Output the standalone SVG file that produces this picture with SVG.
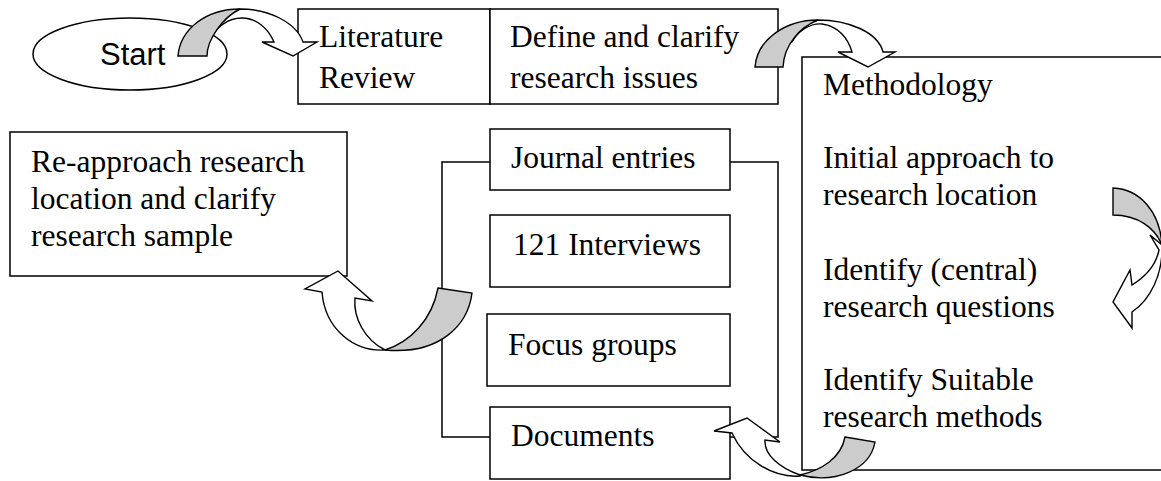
<svg xmlns="http://www.w3.org/2000/svg" width="1161" height="481" viewBox="0 0 1161 481">
<style>
.box{fill:#fff;stroke:#000;stroke-width:1.5}
.t{font-family:"Liberation Serif","Times New Roman",serif;font-size:31.5px;fill:#000}
.s{font-family:"Liberation Sans",Arial,sans-serif;font-size:31px;fill:#000}
.ln{fill:none;stroke:#000;stroke-width:1.5}
.w{fill:#fff;stroke:#000;stroke-width:1.4;stroke-linejoin:miter}
.g{fill:#cccccc;stroke:#000;stroke-width:1.4}
</style>
<rect width="1161" height="481" fill="#fff"/>
<g id="start">
<ellipse class="box" cx="130" cy="54" rx="97" ry="36"/>
<text class="s" x="100" y="65">Start</text>
</g>
<g id="literature">
<rect class="box" x="298" y="9" width="192" height="95"/>
<text class="t" x="319" y="47">Literature</text>
<text class="t" x="319" y="88">Review</text>
</g>
<g id="define">
<rect class="box" x="490" y="9" width="288" height="95"/>
<text class="t" x="510" y="47">Define and clarify</text>
<text class="t" x="510" y="88">research issues</text>
</g>
<g id="methodology">
<rect class="box" x="802" y="57" width="370" height="413"/>
<text class="t" x="823" y="95">Methodology</text>
<text class="t" x="823" y="168">Initial approach to</text>
<text class="t" x="823" y="205">research location</text>
<text class="t" x="823" y="280">Identify (central)</text>
<text class="t" x="823" y="317">research questions</text>
<text class="t" x="823" y="390">Identify Suitable</text>
<text class="t" x="823" y="427">research methods</text>
</g>
<g id="reapproach">
<rect class="box" x="10" y="132" width="337" height="144"/>
<text class="t" x="31" y="172">Re-approach research</text>
<text class="t" x="31" y="209">location and clarify</text>
<text class="t" x="31" y="246">research sample</text>
</g>
<g id="journal">
<rect class="box" x="490" y="129" width="240" height="61"/>
<text class="t" x="511" y="168">Journal entries</text>
</g>
<g id="interviews">
<rect class="box" x="490" y="215" width="240" height="72"/>
<text class="t" x="513" y="255">121 Interviews</text>
</g>
<g id="focus">
<rect class="box" x="487" y="314" width="243" height="72"/>
<text class="t" x="508" y="355">Focus groups</text>
</g>
<g id="documents">
<rect class="box" x="490" y="407" width="240" height="72"/>
<text class="t" x="511" y="446">Documents</text>
</g>
<g id="connectors">
<path class="ln" d="M490,162 H442 V437 H490"/>
<path class="ln" d="M730,162 H778 V437 H730"/>
<!-- Start to Literature -->
<path class="w" d="M240,9 C268,9 296,22 303,42 L317,42 L293,56 L262,42 L274,42 C268,28 256,18 242,18 C228,18 216,27 210,40 L202,38 L226,13 Z"/>
<path class="g" d="M178,56 L207,56 C207,40 222,18 240,9 C205,9 180,30 178,56 Z"/>
<!-- Define to Methodology -->
<path class="w" d="M818,20 C848,20 878,32 883,52 L895,52 L868,67 L838,52 L852,52 C848,38 838,26 822,24 C810,23 798,31 792,42 L780,45 L800,25 Z"/>
<path class="g" d="M755,67 L783,67 C784,45 800,27 818,20 C785,20 757,40 755,67 Z"/>
<!-- inside Methodology -->
<path class="w" d="M1162,245 C1163,275 1150,300 1132,312 L1132,328 L1113,302 L1130,270 L1132,285 C1145,277 1156,265 1159,250 L1150,235 Z"/>
<path class="g" d="M1113,188 C1140,189 1160,212 1162,245 C1155,228 1138,215 1113,215 Z"/>
<!-- Methodology to Documents -->
<path class="w" d="M800,476 C775,478 745,462 732,433 L714,431 L747,418 L780,442 L765,440 C764,455 780,468 800,475 Z"/>
<path class="g" d="M845,437 L875,442 C870,470 835,484 800,475 C822,470 841,458 845,437 Z"/>
<!-- Documents to Re-approach -->
<path class="w" d="M385,350 C355,352 325,330 322,292 L305,289 L338,271 L372,301 L355,298 C353,318 365,340 385,350 Z"/>
<path class="g" d="M438,288 L472,293 C468,325 440,355 385,350 C410,342 432,320 438,288 Z"/>
</g>
</svg>
